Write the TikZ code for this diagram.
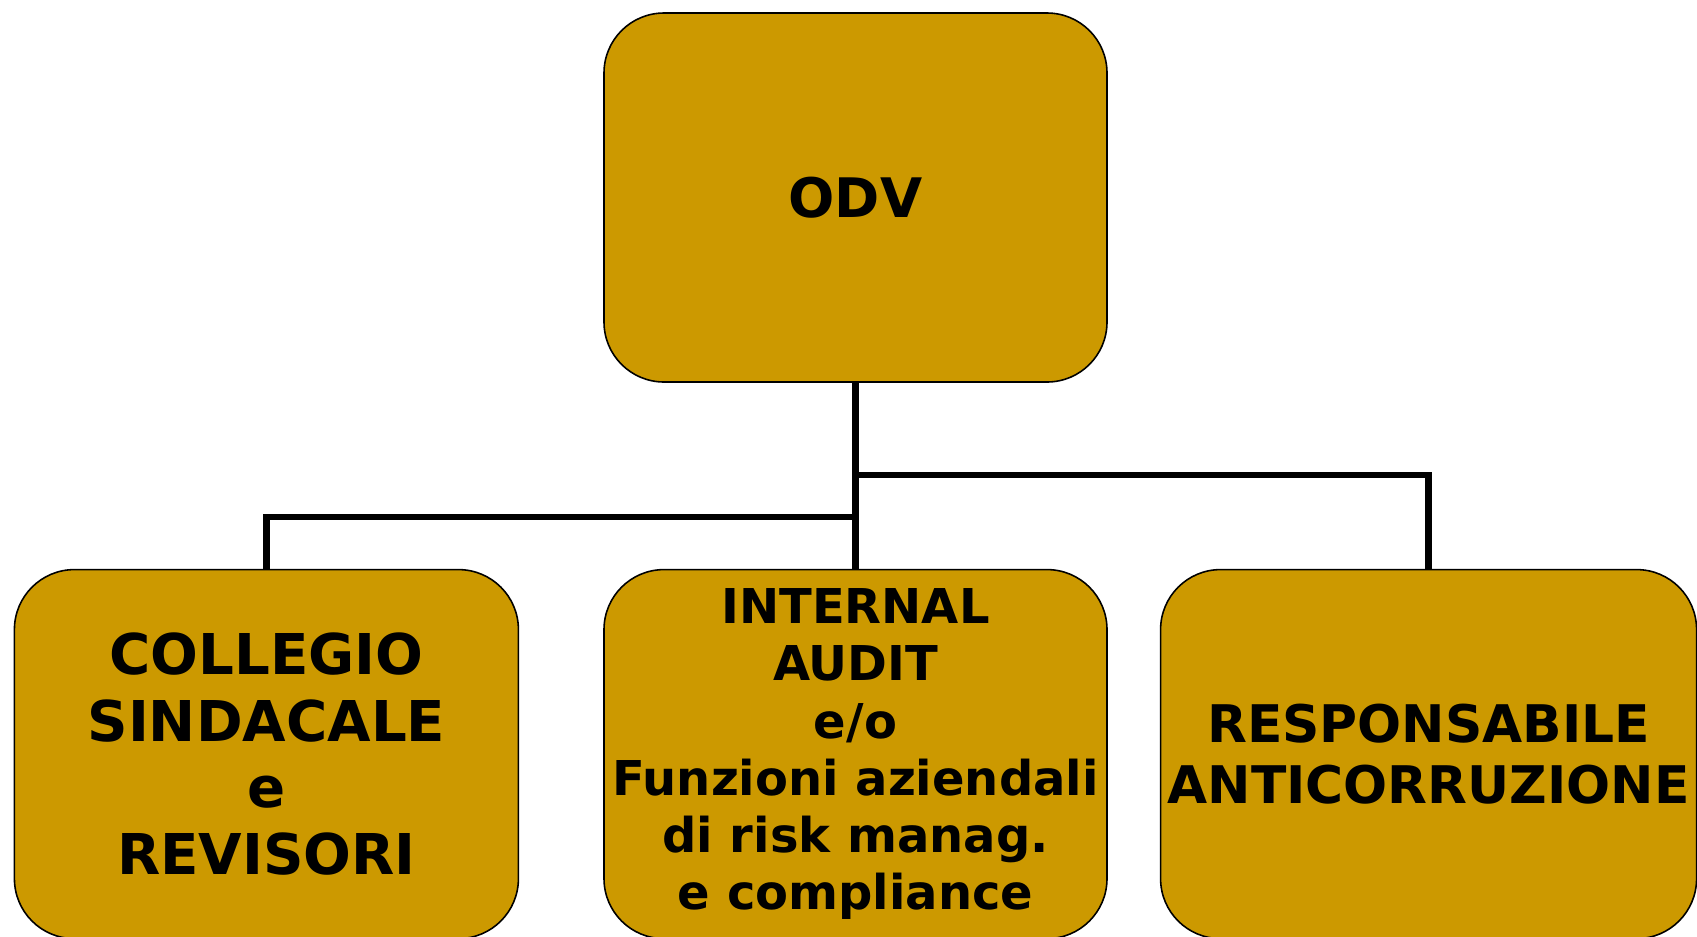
\documentclass[tikz,border=0pt]{standalone}
\usepackage{fontspec}
\setmainfont{DejaVu Sans}
\usetikzlibrary{positioning}
\definecolor{ocra}{HTML}{CC9900}

\begin{document}
\begin{tikzpicture}[
    ente/.style={draw=black,line width=.9pt,fill=ocra,rounded corners=1.2cm,
      minimum height=7.38cm,inner sep=1pt,align=center},
    link/.style={line width=3.6pt}]

  \useasboundingbox (0,0) rectangle (33.94,-18.72);

  % top box
  \node[ente,minimum width=10.06cm,font=\bfseries\fontsize{31}{37}\selectfont]
    (odv) at (17.11,-3.95) {ODV};

  % second row
  \node[ente,minimum width=10.06cm,below=3.72cm of odv,
    font=\bfseries\fontsize{27.3}{32.5}\selectfont] (internal)
    {INTERNAL\\AUDIT\\e/o\\Funzioni aziendali\\di risk manag.\\e compliance};
  \node[ente,minimum width=10.08cm,left=1.68cm of internal,
    font=\bfseries\fontsize{32}{38}\selectfont] (collegio)
    {COLLEGIO\\SINDACALE\\e\\REVISORI};
  \node[ente,minimum width=10.72cm,right=1.04cm of internal,
    font=\bfseries\fontsize{29.5}{34.6}\selectfont] (anticorr)
    {RESPONSABILE\\ANTICORRUZIONE};

  \coordinate (right bar) at ([yshift=-1.84cm]odv.south);
  \coordinate (left bar)  at ([yshift=1.04cm]internal.north);

  \draw[link] (odv.south) -- (internal.north);
  \draw[link] (right bar) -| (anticorr.north);
  \draw[link] (left bar) -| (collegio.north);
\end{tikzpicture}
\end{document}
